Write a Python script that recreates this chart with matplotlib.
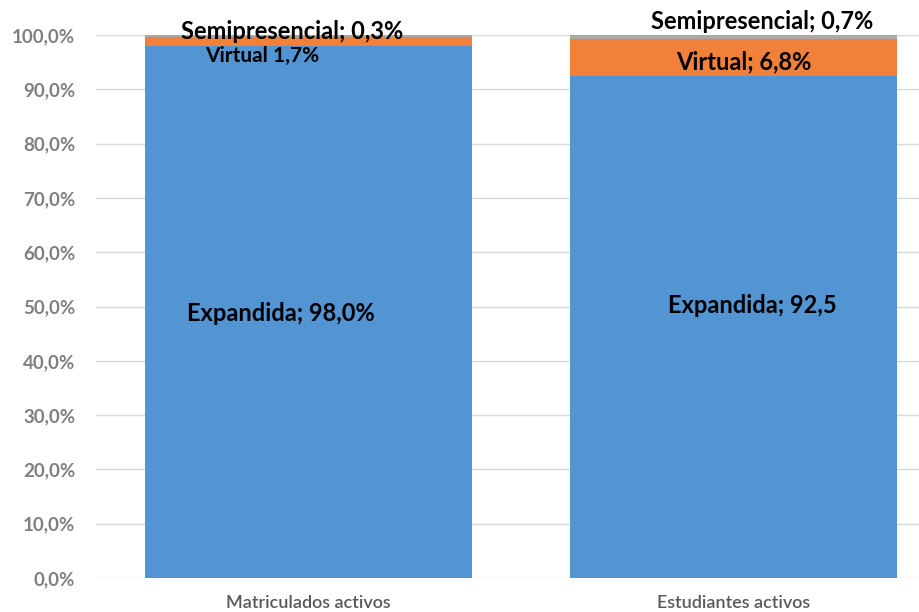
import matplotlib
matplotlib.use("Agg")
import matplotlib.pyplot as plt
from matplotlib.ticker import FuncFormatter

categories = ["Matriculados activos", "Estudiantes activos"]
expandida = [98.0, 92.5]
virtual = [1.7, 6.8]
semipresencial = [0.3, 0.7]
labels_exp = ["Expandida; 98,0%", "Expandida; 92,5"]
labels_vir = ["Virtual 1,7%", "Virtual; 6,8%"]
labels_sem = ["Semipresencial; 0,3%", "Semipresencial; 0,7%"]

plt.rcParams['font.family'] = ['Lato', 'DejaVu Sans']

fig = plt.figure(figsize=(9.2, 6.12), dpi=100)
ax = fig.add_axes([96/920, 1 - 578/612, 850/920, (578 - 35)/612])

x = list(range(len(categories)))
w = 0.77
blue, orange, grey = "#5295D2", "#F0803A", "#A9A9A9"
ax.bar(x, expandida, w, color=blue, zorder=2)
ax.bar(x, virtual, w, bottom=expandida, color=orange, zorder=2)
bot2 = [a + b for a, b in zip(expandida, virtual)]
ax.bar(x, semipresencial, w, bottom=bot2, color=grey, zorder=2)

ax.set_ylim(0, 100)
ax.set_xlim(-0.5, 1.5)
ax.set_yticks(range(0, 101, 10))
ax.yaxis.set_major_formatter(FuncFormatter(lambda v, p: f"{v:.1f}%".replace(".", ",")))
ax.grid(axis='y', color="#D9D9D9", linewidth=1, zorder=0)
for s in ax.spines.values():
    s.set_visible(False)
ax.tick_params(axis='both', length=0)
ax.tick_params(axis='y', pad=15, labelsize=13.5, labelcolor="#7F7F7F")
ax.tick_params(axis='x', pad=12, labelsize=13, labelcolor="#595959")
for t in ax.get_yticklabels():
    t.set_fontweight('bold')
ax.set_xticks(x)
ax.set_xticklabels(categories, fontweight='semibold')

# labels
kw = dict(ha='center', va='center', fontweight='bold', color='black', zorder=3, clip_on=False)
ax.text(x[0] - 0.065, 48.8, labels_exp[0], fontsize=17, **kw)
ax.text(x[1] + 0.044, 50.1, labels_exp[1], fontsize=17, **kw)
ax.text(x[0] - 0.109, 96.1, labels_vir[0], fontsize=15, **kw)
ax.text(x[1] + 0.025, 95.0, labels_vir[1], fontsize=17, **kw)
ax.text(x[0] - 0.039, 100.7, labels_sem[0], fontsize=17, **kw)
ax.text(x[1] + 0.067, 102.4, labels_sem[1], fontsize=17, **kw)

fig.savefig("out.png", dpi=100)
